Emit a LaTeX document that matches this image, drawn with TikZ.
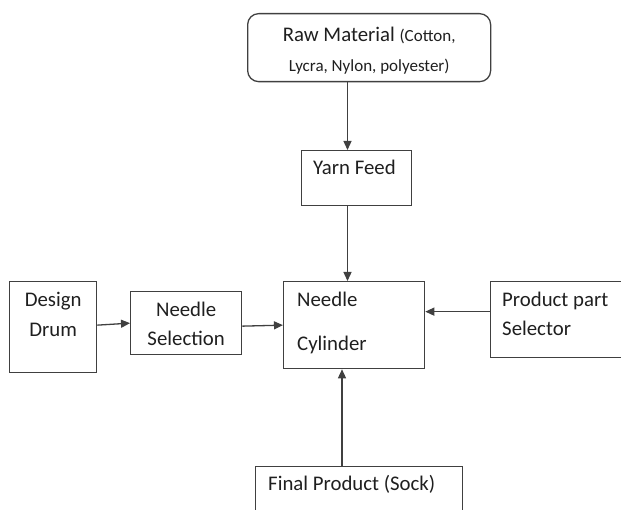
\documentclass[tikz,border=0pt]{standalone}
\usepackage{fontspec}
\setmainfont{Carlito}
\usetikzlibrary{arrows.meta}

\tikzset{
	box/.style={draw=black!75, line width=1.3pt, rectangle, inner sep=0pt, anchor=north west},
	rawbox/.style={box, rounded corners=11pt},
	txt/.style={text=black!88, inner sep=0pt, font=\fontsize{20.8}{30}\selectfont},
	arr/.style={draw=black!75, line width=1.3pt, -{Triangle[length=9pt,width=8pt]}},
}

\begin{document}
\begin{tikzpicture}[x={(1pt,0)},y={(0,-1pt)}]
	\useasboundingbox (0,0) rectangle (621,510);
	% boxes, placed by their top left corners
	\node[rawbox, minimum width=243, minimum height=68] (raw) at (247,13) {};
	\node[box, minimum width=110, minimum height=55] (yarn) at (301,150) {};
	\node[box, minimum width=141, minimum height=87] (cyl) at (283,281) {};
	\node[box, minimum width=87, minimum height=91] (drum) at (9,281) {};
	\node[box, minimum width=111, minimum height=63] (sel) at (130,291) {};
	\node[box, minimum width=140, minimum height=76] (part) at (490,281) {};
	\node[box, minimum width=207, minimum height=50] (sock) at (255,466) {};

	% texts (base = baseline of the last line)
	\node[txt, anchor=base, align=center] (rawtxt) at ([shift={(0,59)}]raw.north)
		{Raw Material {\fontsize{17}{30}\selectfont(Cotton,}\\{\fontsize{17}{30}\selectfont Lycra, Nylon, polyester)}};
	\node[txt, anchor=base west] (yarntxt) at ([shift={(12,25)}]yarn.north west) {Yarn Feed};
	\node[txt, anchor=base west, align=left] (cyltxt) at ([shift={(14,70)}]cyl.north west) {Needle\\[14pt]Cylinder};
	\node[txt, anchor=base, align=center] (drumtxt) at ([shift={(0,56)}]drum.north) {Design\\Drum};
	\node[txt, anchor=base, align=center] (seltxt) at ([shift={(0,55)}]sel.north) {Needle\\[-1pt]Selection};
	\node[txt, anchor=base west, align=left] (parttxt) at ([shift={(12,55)}]part.north west) {Product part\\[-1pt]Selector};
	\node[txt, anchor=base west] (socktxt) at ([shift={(13,24)}]sock.north west) {Final Product (Sock)};

	% connectors
	\coordinate (feed) at (347.5,0);
	\coordinate (back) at (342,0);
	\draw[arr] (raw.south -| feed) -- (yarn.north -| feed);
	\draw[arr] (yarn.south -| feed) -- (cyl.north -| feed);
	\draw[arr] ([shift={(0,-2)}]drum.east) -- (sel.west);
	\draw[arr] ([shift={(0,3)}]sel.east) -- (cyl.west);
	\draw[arr] ([shift={(0,-8)}]part.west) -- ([shift={(0,-13.5)}]cyl.east);
	\draw[arr] (sock.north -| back) -- (cyl.south -| back);
\end{tikzpicture}
\end{document}
